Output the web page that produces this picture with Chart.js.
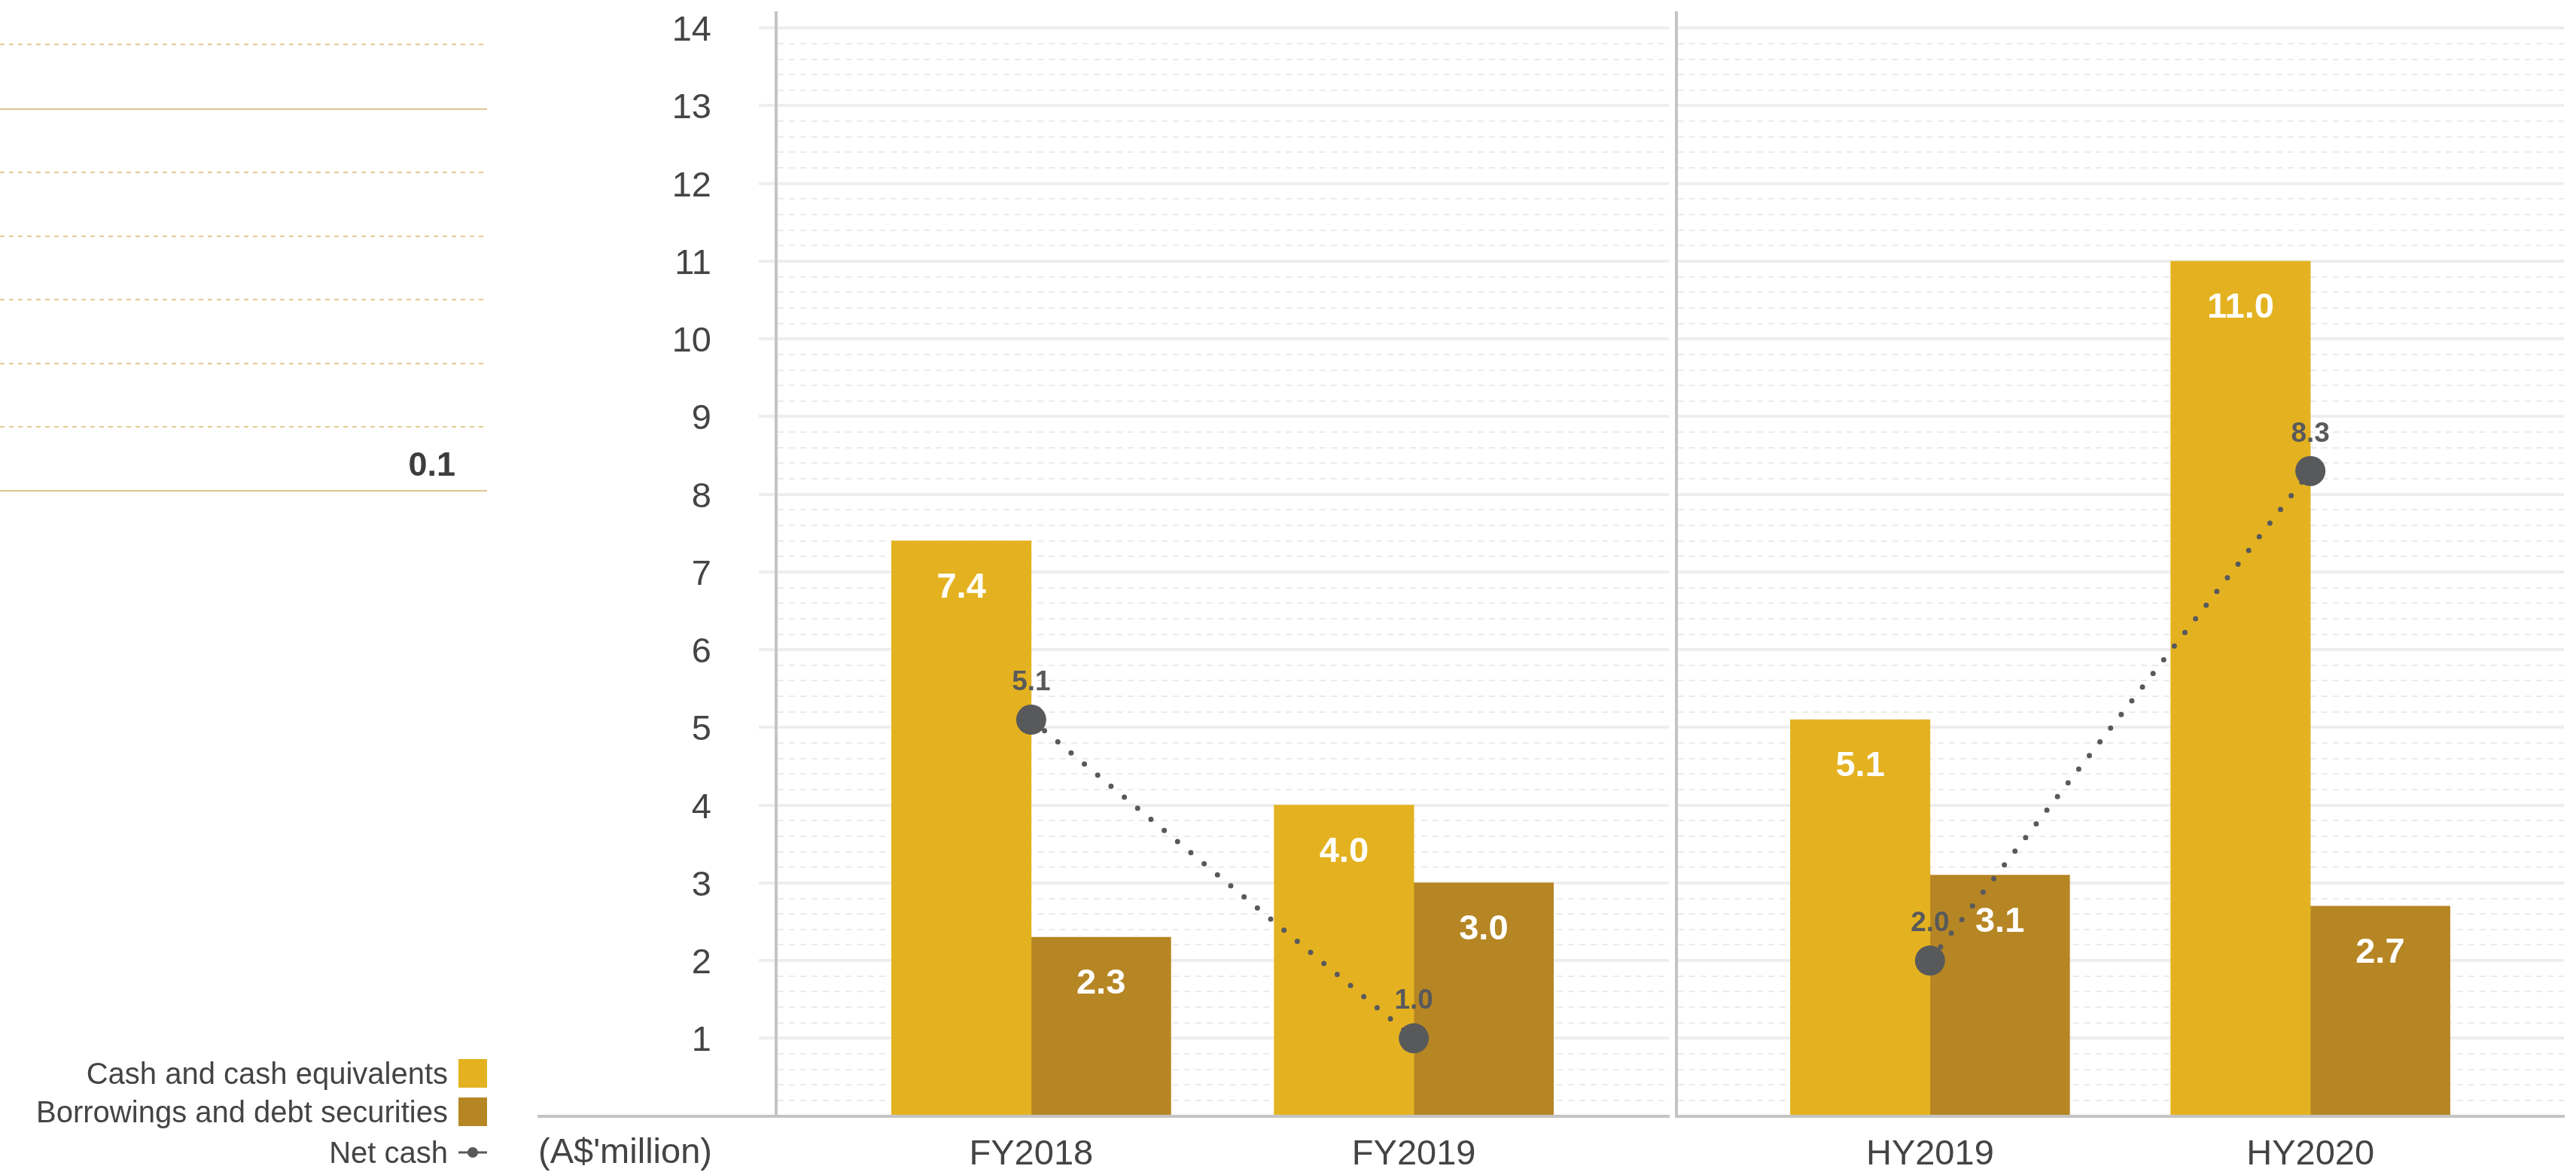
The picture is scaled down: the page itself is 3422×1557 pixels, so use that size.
<!DOCTYPE html>
<html>
<head>
<meta charset="utf-8">
<title>Net cash</title>
<script src="https://cdn.jsdelivr.net/npm/chart.js@4.4.0/dist/chart.umd.min.js"></script>
<style>
  html, body { margin: 0; padding: 0; background: #fff; }
  #page {
    position: relative; width: 3422px; height: 1557px; overflow: hidden;
    font-family: "Liberation Sans", Arial, sans-serif; color: #444;
  }
  /* キャンバスは上下にはみ出させて、軸の余白を調整する */
  canvas { position: absolute; top: -47px; }
  #chart-fy { left: 0; }
  #chart-hy { left: 2204px; }

  /* 左側に切れて見えている表の罫線 */
  .rule { position: absolute; left: 0; width: 647px; height: 2px; z-index: 2; }
  .rule.dash { background: repeating-linear-gradient(to right, #e2c993 0 6px, transparent 6px 12px); }
  .rule.solid { background: #dcc48f; }
  #table-value { position: absolute; right: calc(3422px - 605px); top: 594px; font: bold 45px "Liberation Sans", Arial, sans-serif; color: #3d3d3d; line-height: 45px; z-index: 2; }

  /* 凡例 */
  .legend-row { position: absolute; right: calc(3422px - 647px); height: 40px; display: flex; align-items: center; z-index: 2; font-size: 40px; line-height: 40px; color: #444; white-space: nowrap; }
  .legend-row .swatch { width: 38px; height: 38px; margin-left: 14px; }
  .legend-row svg { margin-left: 14px; }

  #unit { position: absolute; left: 715px; top: 1505px; font-size: 47px; line-height: 47px; color: #444; z-index: 2; }
  #base-ext { position: absolute; left: 714px; top: 1481px; width: 320px; height: 4px; background: #c4c4c4; z-index: 1; }
</style>
</head>
<body>
<div id="page">
  <canvas id="chart-fy" width="2240" height="1632"></canvas>
  <canvas id="chart-hy" width="1225" height="1632"></canvas>

  <div class="rule dash" style="top:58px"></div>
  <div class="rule solid" style="top:144px"></div>
  <div class="rule dash" style="top:228px"></div>
  <div class="rule dash" style="top:313px"></div>
  <div class="rule dash" style="top:397px"></div>
  <div class="rule dash" style="top:482px"></div>
  <div class="rule dash" style="top:566px"></div>
  <div class="rule solid" style="top:651px"></div>
  <div id="table-value">0.1</div>

  <div class="legend-row" style="top:1406px">Cash and cash equivalents<div class="swatch" style="background:#e4b220"></div></div>
  <div class="legend-row" style="top:1457px">Borrowings and debt securities<div class="swatch" style="background:#b68624"></div></div>
  <div class="legend-row" style="top:1511px">Net cash<svg width="38" height="20" viewBox="0 0 38 20"><line x1="0" y1="10" x2="38" y2="10" stroke="#58595b" stroke-width="3"/><circle cx="19" cy="10" r="7" fill="#58595b"/></svg></div>

  <div id="unit">(A$'million)</div>
  <div id="base-ext"></div>
</div>

<script>
// データ
const categories = ['FY2018', 'FY2019', 'HY2019', 'HY2020'];
const cashValues = [7.4, 4.0, 5.1, 11.0];
const borrowingValues = [2.3, 3.0, 3.1, 2.7];
const netCashValues = [5.1, 1.0, 2.0, 8.3];
const yTickLabels = ['1', '2', '3', '4', '5', '6', '7', '8', '9', '10', '11', '12', '13', '14'];

// 色とフォント
const CASH_COLOR = '#e4b220';
const BORROW_COLOR = '#b68624';
const NET_COLOR = '#58595b';
const AXIS_COLOR = '#c4c4c4';
const FONT = '"Liberation Sans", Arial, sans-serif';

Chart.defaults.font.family = FONT;
Chart.defaults.color = '#444';

// 各パネルは空きスロット2つずつで区切る（offset無しのカテゴリ軸）
const GAP = 2;
function padLabels(cats) {
    const out = [];
    cats.forEach(c => {
        for (let i = 0; i < GAP; i++) out.push('');
        out.push(c);
    });
    for (let i = 0; i < GAP; i++) out.push('');
    return out;
}
function padValues(vals) {
    const out = [];
    vals.forEach(v => {
        for (let i = 0; i < GAP; i++) out.push(null);
        out.push(v);
    });
    for (let i = 0; i < GAP; i++) out.push(null);
    return out;
}

const Y_MAX = 14;
const nearInt = v => Math.abs(v - Math.round(v)) < 1e-6;
const isMajor = v => nearInt(v) && v <= Y_MAX + 1e-6;
const isLabelled = v => isMajor(v) && yTickLabels.includes(String(Math.round(v)));

// 値ラベル（棒の中の白文字、折れ線の上の灰色文字）
const valueLabels = {
    id: 'valueLabels',
    afterDatasetsDraw(chart) {
        const ctx = chart.ctx;
        chart.data.datasets.forEach((ds, i) => {
            const meta = chart.getDatasetMeta(i);
            meta.data.forEach((el, j) => {
                const v = ds.data[j];
                if (v == null) return;
                ctx.save();
                ctx.textAlign = 'center';
                ctx.textBaseline = 'alphabetic';
                if (ds.type === 'line') {
                    ctx.font = 'bold 37px ' + FONT;
                    ctx.fillStyle = NET_COLOR;
                    ctx.fillText(v.toFixed(1), el.x, el.y - 39);
                } else {
                    ctx.font = 'bold 47px ' + FONT;
                    ctx.fillStyle = '#ffffff';
                    ctx.fillText(v.toFixed(1), el.x, el.y + 75);
                }
                ctx.restore();
            });
        });
    }
};

function yScale(showLabels, axisWidth) {
    return {
        min: 0,
        max: 14.2,
        ticks: {
            stepSize: 0.2,
            autoSkip: false,
            padding: 63,
            labelOffset: 4,
            color: showLabels ? '#444' : 'rgba(0,0,0,0)',
            font: c => (c.tick && isLabelled(c.tick.value)) ? { size: 47, family: FONT } : { size: 1, family: FONT },
            callback: v => isLabelled(v) ? String(Math.round(v)) : ''
        },
        grid: {
            drawTicks: showLabels,
            tickLength: 23,
            tickWidth: 4,
            tickColor: c => (c.tick && isMajor(c.tick.value) && c.tick.value > 0) ? '#eeeeee' : 'rgba(0,0,0,0)',
            color: c => {
                if (!c.tick) return '#eeeeee';
                if (c.tick.value > Y_MAX + 1e-6) return 'rgba(0,0,0,0)';
                return isMajor(c.tick.value) ? '#eeeeee' : '#ebebeb';
            },
            lineWidth: c => (c.tick && isMajor(c.tick.value)) ? 4 : 2
        },
        border: {
            color: AXIS_COLOR,
            width: 4,
            dash: c => (c.tick && !isMajor(c.tick.value)) ? [8, 7] : []
        },
        afterFit: s => { s.width = axisWidth; }
    };
}

function makeChart(canvasId, from, to, showYLabels, axisWidth) {
    const cats = categories.slice(from, to);
    new Chart(document.getElementById(canvasId), {
        type: 'bar',
        data: {
            labels: padLabels(cats),
            datasets: [
                {
                    type: 'line',
                    label: 'Net cash',
                    data: padValues(netCashValues.slice(from, to)),
                    order: 0,
                    spanGaps: true,
                    borderColor: NET_COLOR,
                    borderWidth: 7,
                    borderDash: [0, 23],
                    borderCapStyle: 'round',
                    pointRadius: 20,
                    pointBackgroundColor: NET_COLOR,
                    pointBorderWidth: 0,
                    tension: 0
                },
                {
                    label: 'Cash and cash equivalents',
                    data: padValues(cashValues.slice(from, to)),
                    backgroundColor: CASH_COLOR,
                    barThickness: 185.5,
                    order: 1
                },
                {
                    label: 'Borrowings and debt securities',
                    data: padValues(borrowingValues.slice(from, to)),
                    backgroundColor: BORROW_COLOR,
                    barThickness: 185.5,
                    order: 1
                }
            ]
        },
        options: {
            responsive: false,
            animation: false,
            layout: { padding: 0 },
            plugins: {
                legend: { display: false },
                tooltip: { enabled: false }
            },
            scales: {
                x: {
                    offset: false,
                    grid: { display: false, drawTicks: false },
                    border: { color: AXIS_COLOR, width: 4 },
                    ticks: {
                        autoSkip: false,
                        maxRotation: 0,
                        padding: 23,
                        color: '#444',
                        font: { size: 47, family: FONT }
                    }
                },
                y: yScale(showYLabels, axisWidth)
            }
        },
        plugins: [valueLabels]
    });
}

makeChart('chart-fy', 0, 2, true, 1031);
makeChart('chart-hy', 2, 4, false, 0);
</script>
</body>
</html>
